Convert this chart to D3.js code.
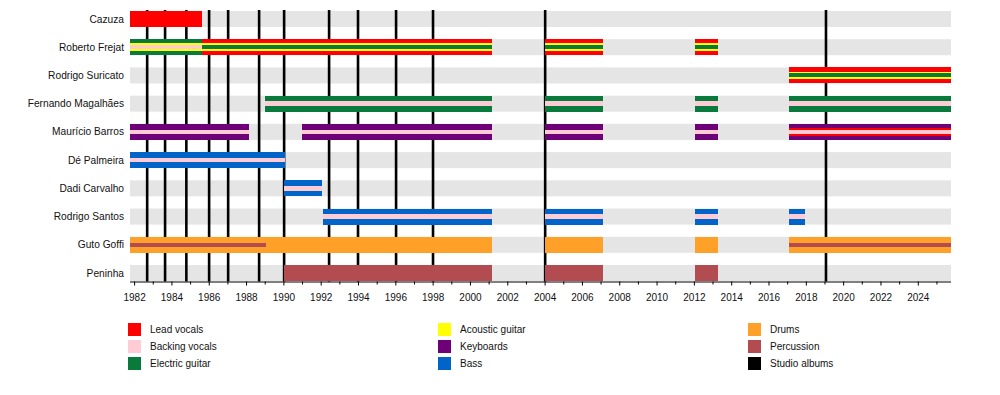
<!DOCTYPE html>
<html><head><meta charset="utf-8">
<script src="https://cdn.jsdelivr.net/npm/d3@7"></script>
<style>
html,body{margin:0;padding:0;background:#fff;}
svg{display:block;font-family:"Liberation Sans",Arial,Helvetica,sans-serif;}
</style></head>
<body>
<svg id="chart" width="1000" height="395"></svg>
<script>
// ---- data ----
const members = ["Cazuza","Roberto Frejat","Rodrigo Suricato","Fernando Magalhães","Maurício Barros","Dé Palmeira","Dadi Carvalho","Rodrigo Santos","Guto Goffi","Peninha"];
const roles = ["Lead vocals","Backing vocals","Electric guitar","Acoustic guitar","Keyboards","Bass","Drums","Percussion","Studio albums"];
const roleColors = ["#ff0000","#ffccd5","#087b3c","#ffff00","#6e0078","#0064c8","#ffa028","#b24c50","#000000"];
const albums = [1982.7, 1983.66, 1984.8, 1986.02, 1987.04, 1988.7, 1990.04, 1992.45, 1994.0, 1996.04, 1998.02, 2004.03, 2019.08];
const tickYears = d3.range(1982, 2026, 2);
const minorYears = d3.range(1983, 2026, 2);
const domainYears = [1981.78, 2025.78];

const FREJAT_MAIN = ["Lead vocals","Acoustic guitar","Electric guitar"];
const tenures = [
  ["Cazuza", 1981.78, 1985.64, ["Lead vocals"]],
  ["Roberto Frejat", 1981.78, 1985.64, ["Electric guitar","Acoustic guitar","Backing vocals"]],
  ["Roberto Frejat", 1985.64, 2001.19, FREJAT_MAIN],
  ["Roberto Frejat", 2004.0, 2007.13, FREJAT_MAIN],
  ["Roberto Frejat", 2012.06, 2013.3, FREJAT_MAIN],
  ["Rodrigo Suricato", 2017.1, 2025.78, FREJAT_MAIN],
  ["Fernando Magalhães", 1989.02, 2001.19, ["Electric guitar","Backing vocals"]],
  ["Fernando Magalhães", 2004.0, 2007.13, ["Electric guitar","Backing vocals"]],
  ["Fernando Magalhães", 2012.06, 2013.3, ["Electric guitar","Backing vocals"]],
  ["Fernando Magalhães", 2017.1, 2025.78, ["Electric guitar","Backing vocals"]],
  ["Maurício Barros", 1981.78, 1988.16, ["Keyboards","Backing vocals"]],
  ["Maurício Barros", 1991.0, 2001.19, ["Keyboards","Backing vocals"]],
  ["Maurício Barros", 2004.0, 2007.13, ["Keyboards","Backing vocals"]],
  ["Maurício Barros", 2012.06, 2013.3, ["Keyboards","Backing vocals"]],
  ["Maurício Barros", 2017.1, 2025.78, ["Keyboards","Lead vocals","Backing vocals"]],
  ["Dé Palmeira", 1981.78, 1990.07, ["Bass","Backing vocals"]],
  ["Dadi Carvalho", 1990.04, 1992.07, ["Bass","Backing vocals"]],
  ["Rodrigo Santos", 1992.13, 2001.19, ["Bass","Backing vocals"]],
  ["Rodrigo Santos", 2004.0, 2007.13, ["Bass","Backing vocals"]],
  ["Rodrigo Santos", 2012.06, 2013.3, ["Bass","Backing vocals"]],
  ["Rodrigo Santos", 2017.1, 2017.96, ["Bass","Backing vocals"]],
  ["Guto Goffi", 1981.78, 1989.07, ["Drums","Percussion"]],
  ["Guto Goffi", 1989.07, 2001.19, ["Drums"]],
  ["Guto Goffi", 2004.0, 2007.13, ["Drums"]],
  ["Guto Goffi", 2012.06, 2013.3, ["Drums"]],
  ["Guto Goffi", 2017.1, 2025.78, ["Drums","Percussion"]],
  ["Peninha", 1990.04, 2001.19, ["Percussion"]],
  ["Peninha", 2004.0, 2007.13, ["Percussion"]],
  ["Peninha", 2012.06, 2013.3, ["Percussion"]]
];

// ---- layout ----
const svg = d3.select("#chart");
const plotL = 130, plotR = 951, plotT = 10, axisY = 281.5;
const x = d3.scaleLinear().domain(domainYears).range([plotL, plotR]);
const y = d3.scalePoint().domain(members).range([19, 273]);
const color = d3.scaleOrdinal().domain(roles).range(roleColors);
const BAND_H = 16;
const layerWidths = {1:[16], 2:[16, 4.5], 3:[16, 7.5, 4]};

// background bands
svg.append("g").selectAll("rect").data(members).join("rect")
  .attr("x", plotL).attr("width", plotR - plotL)
  .attr("y", d => y(d) - BAND_H/2).attr("height", BAND_H)
  .attr("fill", "#e5e5e5");

// album lines
svg.append("g").selectAll("line").data(albums).join("line")
  .attr("x1", d => x(d)).attr("x2", d => x(d))
  .attr("y1", plotT).attr("y2", axisY)
  .attr("stroke", color("Studio albums")).attr("stroke-width", 2.6);

// bars
const layers = [];
tenures.forEach(([m, s, e, rs]) => {
  rs.forEach((r, i) => layers.push({m, s, e, r, w: layerWidths[rs.length][i]}));
});
svg.append("g").selectAll("rect").data(layers).join("rect")
  .attr("x", d => x(d.s)).attr("width", d => x(d.e) - x(d.s))
  .attr("y", d => y(d.m) - d.w/2).attr("height", d => d.w)
  .attr("fill", d => color(d.r))
  .attr("shape-rendering", "crispEdges");

// member labels
svg.append("g").selectAll("text").data(members).join("text")
  .attr("x", 124).attr("y", d => y(d)).attr("dy", "0.35em")
  .attr("text-anchor", "end").attr("font-size", "10.2px").attr("fill", "#111")
  .text(d => d);

// axis
const axis = d3.axisBottom(x).tickValues(tickYears).tickFormat(d3.format("d")).tickSize(4).tickPadding(8);
const ga = svg.append("g").attr("transform", `translate(0,${axisY})`).call(axis);
ga.select(".domain").attr("d", `M${plotL},0.5H${plotR}`).attr("stroke", "#000");
ga.selectAll("text").attr("font-size", "10px").attr("font-family", "'Liberation Sans',Arial,sans-serif").attr("fill", "#111");
const minorAxis = d3.axisBottom(x).tickValues(minorYears).tickFormat("").tickSize(3);
const gm = svg.append("g").attr("transform", `translate(0,${axisY})`).call(minorAxis);
gm.select(".domain").remove();

// legend
const legendCols = [roles.slice(0,3), roles.slice(3,6), roles.slice(6,9)];
const colX = [128, 438, 748];
legendCols.forEach((col, ci) => {
  const g = svg.append("g");
  col.forEach((r, ri) => {
    const cy = 329.5 + ri * 17;
    g.append("rect").attr("x", colX[ci]).attr("y", cy - 6.5).attr("width", 13).attr("height", 13).attr("fill", color(r));
    g.append("text").attr("x", colX[ci] + 22).attr("y", cy).attr("dy", "0.35em")
      .attr("font-size", "10px").attr("fill", "#111").text(r);
  });
});
</script>
</body></html>
